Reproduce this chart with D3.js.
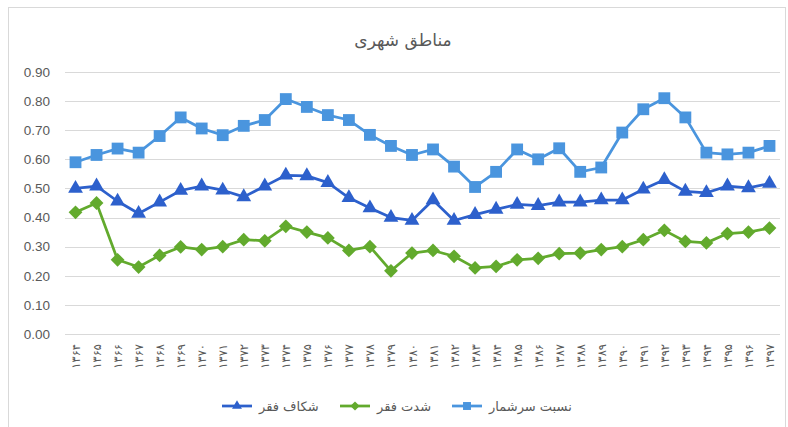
<!DOCTYPE html>
<html>
<head>
<meta charset="utf-8">
<script src="https://cdn.jsdelivr.net/npm/d3@7"></script>
<style>
  body { margin: 0; background: #fff; }
  svg { display: block; }
</style>
</head>
<body>
<svg id="chart" width="788" height="427"></svg>
<script>
var years = ["۱۳۶۴", "۱۳۶۵", "۱۳۶۶", "۱۳۶۷", "۱۳۶۸", "۱۳۶۹", "۱۳۷۰", "۱۳۷۱", "۱۳۷۲",
  "۱۳۷۳", "۱۳۷۴", "۱۳۷۵", "۱۳۷۶", "۱۳۷۷", "۱۳۷۸", "۱۳۷۹", "۱۳۸۰", "۱۳۸۱", "۱۳۸۲",
  "۱۳۸۳", "۱۳۸۴", "۱۳۸۵", "۱۳۸۶", "۱۳۸۷", "۱۳۸۸", "۱۳۸۹", "۱۳۹۰", "۱۳۹۱", "۱۳۹۲",
  "۱۳۹۳", "۱۳۹۴", "۱۳۹۵", "۱۳۹۶", "۱۳۹۷"];

// شکاف فقر
var gapValues = [0.50, 0.508, 0.456, 0.414, 0.453, 0.493, 0.508, 0.494, 0.471, 0.508,
  0.545, 0.543, 0.52, 0.468, 0.433, 0.40, 0.39, 0.46, 0.39, 0.41, 0.428, 0.445, 0.441,
  0.453, 0.453, 0.46, 0.46, 0.497, 0.53, 0.49, 0.485, 0.508, 0.502, 0.517];

// شدت فقر
var severityValues = [0.418, 0.45, 0.255, 0.23, 0.27, 0.299, 0.29, 0.30, 0.324, 0.32,
  0.37, 0.35, 0.33, 0.287, 0.30, 0.217, 0.278, 0.287, 0.267, 0.227, 0.232, 0.255, 0.26,
  0.276, 0.278, 0.29, 0.30, 0.324, 0.356, 0.318, 0.313, 0.345, 0.35, 0.364];

// نسبت سرشمار
var headcountValues = [0.59, 0.615, 0.637, 0.623, 0.68, 0.744, 0.706, 0.683, 0.715, 0.735,
  0.807, 0.78, 0.752, 0.735, 0.684, 0.646, 0.615, 0.634, 0.575, 0.505, 0.557, 0.634, 0.60,
  0.638, 0.557, 0.572, 0.692, 0.772, 0.81, 0.744, 0.623, 0.617, 0.623, 0.646];

var yTicks = [0, 0.1, 0.2, 0.3, 0.4, 0.5, 0.6, 0.7, 0.8, 0.9];

var series = [
  { name: "شکاف فقر", values: gapValues, color: "#2d60cc", symbol: "triangle" },
  { name: "شدت فقر", values: severityValues, color: "#62aa2d", symbol: "diamond" },
  { name: "نسبت سرشمار", values: headcountValues, color: "#4a95de", symbol: "square" }
];

var svg = d3.select("#chart");
var textColor = "#595959";
var faFont = "'DejaVu Sans', sans-serif";

// chart frame
svg.append("rect")
  .attr("x", 8.5).attr("y", 7.5)
  .attr("width", 777).attr("height", 430)
  .attr("fill", "#fff")
  .attr("stroke", "#d9d9d9");

var x = d3.scalePoint().domain(years).range([65, 780]).padding(0.5);
var y = d3.scaleLinear().domain([0, 0.9]).range([334, 72]);

// gridlines
svg.append("g")
  .selectAll("line")
  .data(yTicks)
  .enter()
  .append("line")
  .attr("x1", 65).attr("x2", 780)
  .attr("y1", (d) => Math.round(y(d)) + 0.5)
  .attr("y2", (d) => Math.round(y(d)) + 0.5)
  .attr("stroke", "#d9d9d9")
  .attr("stroke-width", 1);

// y axis labels
svg.append("g")
  .attr("transform", "translate(53,0)")
  .call(d3.axisLeft(y).tickValues(yTicks).tickFormat(d3.format(".2f")).tickSize(0))
  .call((g) => g.select(".domain").remove())
  .call((g) => g.selectAll("text")
    .attr("fill", textColor)
    .attr("font-family", "'Liberation Sans', Arial, sans-serif")
    .attr("font-size", 13.5));

// x axis labels (rotated)
svg.append("g")
  .attr("transform", "translate(0,334)")
  .call(d3.axisBottom(x).tickSize(0))
  .call((g) => g.select(".domain").remove())
  .call((g) => g.selectAll("text")
    .attr("fill", textColor)
    .attr("font-family", faFont)
    .attr("font-size", 11.5)
    .attr("text-anchor", "end")
    .attr("transform", "rotate(-90)")
    .attr("x", -10)
    .attr("y", 0)
    .attr("dy", "0.35em"));

function symbolPath(type, scale) {
  if (type == "triangle") return d3.symbol().type(d3.symbolTriangle).size(95 * scale)();
  if (type == "square") return d3.symbol().type(d3.symbolSquare).size(140 * scale)();
  return d3.symbol().type(d3.symbolSquare).size(95 * scale)();
}

var line = d3.line()
  .x((d, i) => x(years[i]))
  .y((d) => y(d));

series.forEach(function (s) {
  svg.append("path")
    .datum(s.values)
    .attr("fill", "none")
    .attr("stroke", s.color)
    .attr("stroke-width", 2.75)
    .attr("stroke-linejoin", "round")
    .attr("d", line);

  svg.append("g")
    .selectAll("path")
    .data(s.values)
    .enter()
    .append("path")
    .attr("d", symbolPath(s.symbol, 1))
    .attr("fill", s.color)
    .attr("transform", (d, i) =>
      `translate(${x(years[i])},${y(d)})` + (s.symbol == "diamond" ? " rotate(45)" : ""));
});

// title
svg.append("text")
  .attr("x", 403)
  .attr("y", 46)
  .attr("text-anchor", "middle")
  .attr("font-family", faFont)
  .attr("font-size", 17)
  .attr("fill", textColor)
  .text("مناطق شهری");

// legend: marker line on the left, label to its right
var legendX = [222, 340, 452];
var legend = svg.append("g");
series.forEach(function (s, i) {
  var g = legend.append("g").attr("transform", `translate(${legendX[i]},406)`);
  g.append("line")
    .attr("x1", 0).attr("x2", 30)
    .attr("stroke", s.color)
    .attr("stroke-width", 2.75);
  g.append("path")
    .attr("d", symbolPath(s.symbol, 0.45))
    .attr("fill", s.color)
    .attr("transform", "translate(15,0)" + (s.symbol == "diamond" ? " rotate(45)" : ""));
  g.append("text")
    .attr("x", 37)
    .attr("dy", "0.35em")
    .attr("text-anchor", "start")
    .attr("font-family", faFont)
    .attr("font-size", 13)
    .attr("fill", textColor)
    .text(s.name);
});
</script>
</body>
</html>
